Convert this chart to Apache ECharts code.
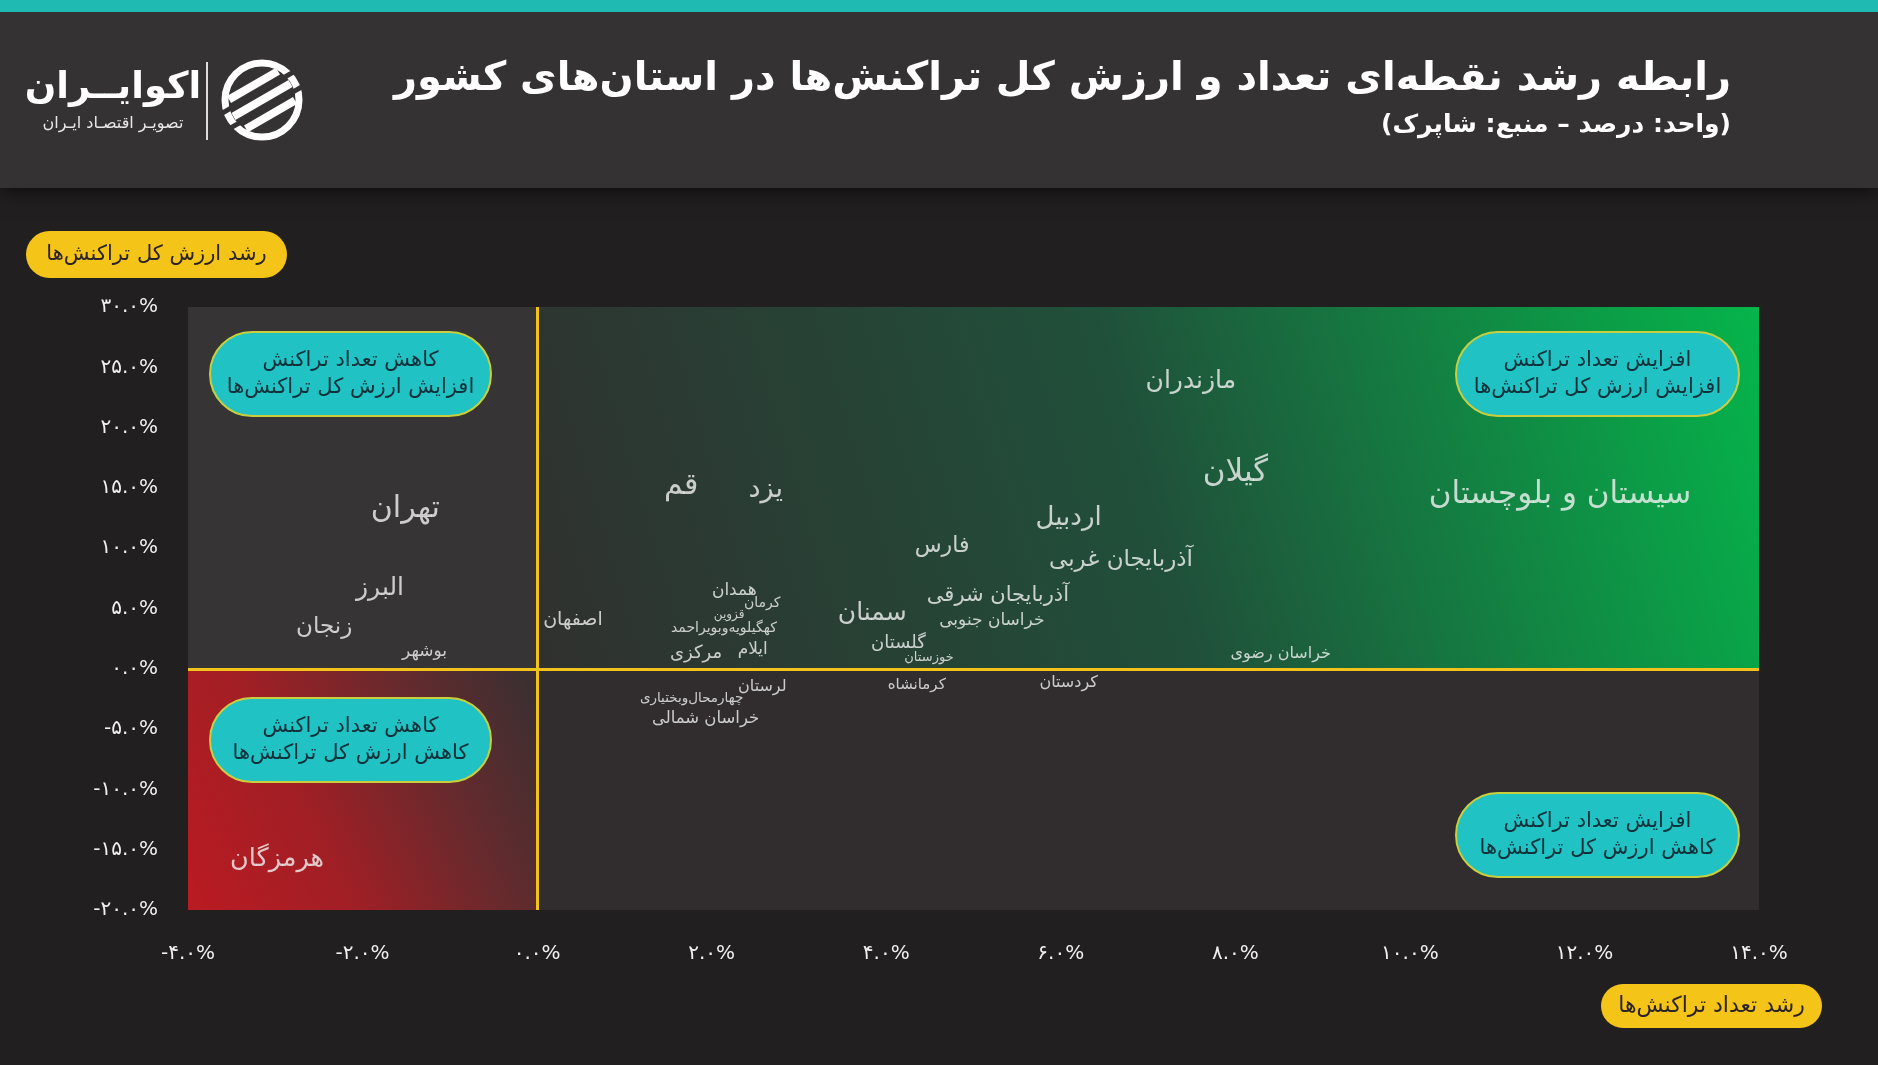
<!DOCTYPE html>
<html><head><meta charset="utf-8">
<script src="https://cdn.jsdelivr.net/npm/echarts@6/dist/echarts.min.js"></script>
<style>html,body{margin:0;padding:0;background:#221f20;}#c{width:1878px;height:1065px;}</style>
</head><body><div id="c"></div>
<script>
// ---- data ----
const provinces = ['مازندران','گیلان','سیستان و بلوچستان','تهران','قم','یزد','اردبیل','فارس','آذربایجان غربی','آذربایجان شرقی','خراسان جنوبی','سمنان','گلستان','خوزستان','خراسان رضوی','البرز','زنجان','بوشهر','اصفهان','همدان','کرمان','قزوین','کهگیلویه\u200cوبویراحمد','مرکزی','ایلام','لرستان','چهارمحال\u200cوبختیاری','خراسان شمالی','کرمانشاه','کردستان','هرمزگان'];
const countGrowth = [7.49, 8.0, 11.72, -1.51, 1.65, 2.62, 6.09, 4.64, 6.69, 5.28, 5.21, 3.84, 4.14, 4.49, 8.52, -1.80, -2.44, -1.29, 0.41, 2.26, 2.58, 2.20, 2.14, 1.82, 2.47, 2.58, 1.77, 1.93, 4.35, 6.09, -2.98];
const valueGrowth = [23.8, 16.2, 14.4, 13.2, 15.1, 14.8, 12.5, 10.2, 9.0, 6.05, 4.0, 4.56, 2.08, 0.9, 1.2, 6.65, 3.5, 1.4, 4.07, 6.45, 5.46, 4.46, 3.37, 1.29, 1.59, -1.49, -2.48, -4.17, -1.39, -1.19, -15.8];
const xTicks = [-4, -2, 0, 2, 4, 6, 8, 10, 12, 14];
const yTicks = [-20, -15, -10, -5, 0, 5, 10, 15, 20, 25, 30];
const titleText = 'رابطه رشد نقطه\u200cای تعداد و ارزش کل تراکنش\u200cها در استان\u200cهای کشور';
const subtitleText = '(واحد: درصد – منبع: شاپرک)';
const yName = 'رشد ارزش کل تراکنش\u200cها';
const xName = 'رشد تعداد تراکنش\u200cها';
const quadrantNotes = [
  ['کاهش تعداد تراکنش', 'افزایش ارزش کل تراکنش\u200cها'],
  ['افزایش تعداد تراکنش', 'افزایش ارزش کل تراکنش\u200cها'],
  ['کاهش تعداد تراکنش', 'کاهش ارزش کل تراکنش\u200cها'],
  ['افزایش تعداد تراکنش', 'کاهش ارزش کل تراکنش\u200cها']
];

// ---- style ----
const labelFont = {'مازندران':25,'گیلان':31,'سیستان و بلوچستان':31,'تهران':30,'قم':30,'یزد':27,'اردبیل':26,'فارس':22,'آذربایجان غربی':23,'آذربایجان شرقی':21,'خراسان جنوبی':17,'سمنان':25,'گلستان':18,'خوزستان':13,'خراسان رضوی':16,'البرز':25,'زنجان':23,'بوشهر':17,'اصفهان':19,'همدان':17,'کرمان':14,'قزوین':12,'کهگیلویه\u200cوبویراحمد':14,'مرکزی':18,'ایلام':17,'لرستان':16,'چهارمحال\u200cوبختیاری':13.5,'خراسان شمالی':16.5,'کرمانشاه':15,'کردستان':16,'هرمزگان':25.5};
const FA = '"DejaVu Sans", sans-serif';
const fa = s => String(s).replace(/\d/g, d => '۰۱۲۳۴۵۶۷۸۹'[d]);
const rtl = s => '\u202B' + s + '\u202C';
const pct = v => fa(v.toFixed(1)) + '%';

const chart = echarts.init(document.getElementById('c'), null, {renderer:'canvas'});

function pill(x, y, w, h, lines) {
  return [
    {type:'rect', z:100, shape:{x:x, y:y, width:w, height:h, r:h/2}, style:{fill:'#20c2c3', stroke:'#c9cf3c', lineWidth:2}},
    {type:'text', z:101, style:{text:lines[0], x:x+w/2, y:y+h/2-13, align:'center', verticalAlign:'middle', fill:'#10303a', font:'21px ' + FA}},
    {type:'text', z:101, style:{text:lines[1], x:x+w/2, y:y+h/2+14, align:'center', verticalAlign:'middle', fill:'#10303a', font:'21px ' + FA}}
  ];
}
function badge(x, y, w, h, text, size) {
  return [
    {type:'rect', z:100, shape:{x:x, y:y, width:w, height:h, r:h/2}, style:{fill:'#f5c419'}},
    {type:'text', z:101, style:{text:text, x:x+w/2, y:y+h/2, align:'center', verticalAlign:'middle', fill:'#2b2324', font:size + 'px ' + FA}}
  ];
}

// logo mark: ring with diagonal stripes
const LX = 262, LY = 100;
const logo = [
  {type:'circle', z:4, shape:{cx:LX, cy:LY, r:37}, style:{fill:'none', stroke:'#ffffff', lineWidth:7}}
];
const dx = 0.866, dy = -0.5, px = 0.5, py = 0.866;
[-17, 0, 17].forEach(d => {
  const hl = Math.sqrt(33 * 33 - d * d);
  const cx = LX + px * d, cy = LY + py * d;
  logo.push({type:'line', z:6, shape:{x1:cx - dx * hl, y1:cy - dy * hl, x2:cx + dx * hl, y2:cy + dy * hl}, style:{stroke:'#ffffff', lineWidth:8}});
});
[-8.5, 8.5].forEach(d => {
  const hl = 44;
  const cx = LX + px * d, cy = LY + py * d;
  logo.push({type:'line', z:7, shape:{x1:cx - dx * hl, y1:cy - dy * hl, x2:cx + dx * hl, y2:cy + dy * hl}, style:{stroke:'#343233', lineWidth:5}});
});

const option = {
  backgroundColor:'#221f20',
  animation:false,
  grid:{left:188, right:119, top:307, bottom:155, containLabel:false},
  xAxis:{type:'value', min:-4, max:14, interval:2,
    axisLine:{show:false}, axisTick:{show:false}, splitLine:{show:false},
    axisLabel:{color:'#f0f0f0', fontSize:20, fontFamily:FA, margin:34, formatter:v => xTicks.includes(v) ? pct(v) : ''}},
  yAxis:{type:'value', min:-20, max:30, interval:5,
    axisLine:{show:false}, axisTick:{show:false}, splitLine:{show:false},
    axisLabel:{color:'#f0f0f0', fontSize:20, fontFamily:FA, margin:30, formatter:v => yTicks.includes(v) ? pct(v) : ''}},
  graphic:[
    {type:'rect', z:1, shape:{x:0, y:0, width:1878, height:188}, style:{fill:'#343233', shadowBlur:18, shadowColor:'rgba(0,0,0,0.6)', shadowOffsetY:4}},
    {type:'rect', z:2, shape:{x:0, y:0, width:1878, height:12}, style:{fill:'#1fbab2'}},
    {type:'text', z:3, style:{text:titleText, x:1731, y:80, align:'right', verticalAlign:'middle', fill:'#ffffff', font:'bold 40px ' + FA, shadowBlur:4, shadowColor:'rgba(0,0,0,0.5)', shadowOffsetY:2}},
    {type:'text', z:3, style:{text:rtl(subtitleText), x:1731, y:125, align:'right', verticalAlign:'middle', fill:'#ffffff', font:'bold 25px ' + FA}},
    {type:'text', z:3, style:{text:'اکوایــران', x:113, y:88, align:'center', verticalAlign:'middle', fill:'#ffffff', font:'bold 37px ' + FA}},
    {type:'text', z:3, style:{text:'تصویـر اقتصـاد ایـران', x:113, y:124, align:'center', verticalAlign:'middle', fill:'#e8e8e8', font:'16px ' + FA}},
    {type:'line', z:3, shape:{x1:207, y1:62, x2:207, y2:140}, style:{stroke:'#dddddd', lineWidth:2}}
  ].concat(logo)
   .concat(badge(26, 231, 261, 47, yName, 21))
   .concat(badge(1601, 984, 221, 44, xName, 22))
   .concat(pill(210, 332, 281, 84, quadrantNotes[0]))
   .concat(pill(1456, 332, 283, 84, quadrantNotes[1]))
   .concat(pill(210, 698, 281, 84, quadrantNotes[2]))
   .concat(pill(1456, 793, 283, 84, quadrantNotes[3])),
  series:[{
    type:'scatter',
    symbolSize:1,
    itemStyle:{color:'rgba(0,0,0,0)'},
    z:10,
    data: provinces.map((n, i) => ({name:n, value:[countGrowth[i], valueGrowth[i]], label:{fontSize:labelFont[n] || 16}})),
    label:{show:true, position:'inside', offset:[0, 3], formatter:p => p.name, color:'#f3f3f3', fontFamily:FA},
    labelLayout:{hideOverlap:false},
    markArea:{silent:true, z:1, data:[
      [{coord:[-4, 0], itemStyle:{color:'#363435'}}, {coord:[0, 30]}],
      [{coord:[0, 0], itemStyle:{color:{type:'linear', x:0, y:1, x2:1, y2:0, colorStops:[{offset:0, color:'#30302f'}, {offset:0.5, color:'#20503a'}, {offset:1, color:'#05b54b'}]}}}, {coord:[14, 30]}],
      [{coord:[-4, -20], itemStyle:{color:{type:'linear', x:0, y:0.85, x2:1, y2:0.15, colorStops:[{offset:0, color:'#b81b22'}, {offset:0.35, color:'#a01f25'}, {offset:0.7, color:'#672a2d'}, {offset:1, color:'#3c2f31'}]}}}, {coord:[0, 0]}],
      [{coord:[0, -20], itemStyle:{color:'#312d2f'}}, {coord:[14, 0]}]
    ]},
    markLine:{silent:true, symbol:'none', label:{show:false}, lineStyle:{color:'#f3c21b', width:3, type:'solid'}, data:[{xAxis:0}, {yAxis:0}]}
  }]
};
chart.setOption(option);
</script></body></html>
